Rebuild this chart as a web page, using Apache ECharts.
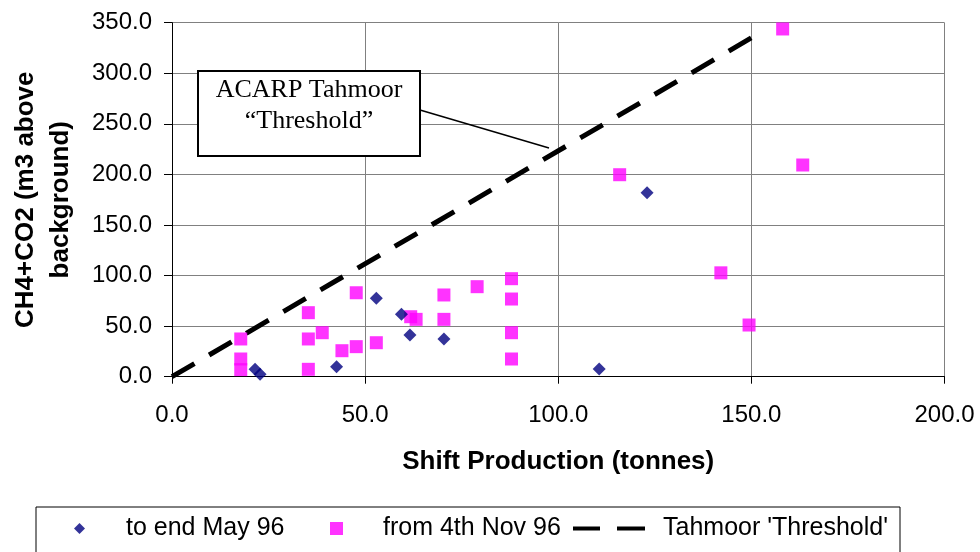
<!DOCTYPE html>
<html><head><meta charset="utf-8">
<script src="https://cdn.jsdelivr.net/npm/echarts@6/dist/echarts.min.js"></script>
<style>html,body{margin:0;padding:0;background:#fff}#c{width:980px;height:552px}</style>
</head><body><div id="c"></div>
<script>
// Series 1: to end May 96
const mayX = [21.5, 22.8, 42.6, 52.9, 59.4, 61.6, 70.4, 110.6, 123.0];
const mayY = [7.3, 2.4, 9.9, 77.5, 61.7, 41.2, 37.3, 7.6, 181.9];
// Series 2: from 4th Nov 96
const novX = [17.8, 17.8, 17.8, 35.3, 35.3, 35.3, 38.9, 44.0, 47.7, 47.7, 52.9, 61.8, 63.2, 70.4, 70.4, 79.0, 87.9, 87.9, 87.9, 87.9, 115.9, 142.1, 149.4, 158.1, 163.3];
const novY = [37.3, 17.5, 7.0, 63.3, 37.3, 7.3, 43.5, 25.7, 29.7, 83.0, 33.6, 59.3, 56.7, 80.8, 56.7, 89.0, 96.9, 76.8, 43.5, 17.5, 199.7, 102.7, 51.1, 343.8, 209.3];
// Series 3: Tahmoor 'Threshold'
const thX = [0, 150];
const thY = [0, 335];
const seriesNames = ["to end May 96", "from 4th Nov 96", "Tahmoor 'Threshold'"];
const xTitle = "Shift Production (tonnes)";
const yTitle = "CH4+CO2 (m3 above\nbackground)";
const annotationText = "ACARP Tahmoor\n\u201CThreshold\u201D";

const pairs = (xs, ys) => xs.map((x, i) => [x, ys[i]]);
const sans = '"Liberation Sans", Arial, sans-serif';
const chart = echarts.init(document.getElementById('c'));
const legendText = (pad) => ({ fontFamily: sans, fontSize: 25, color: '#000', padding: [0, 0, 0, pad] });
chart.setOption({
  animation: false,
  backgroundColor: '#fff',
  grid: { left: 170.5, right: 35.5, top: 22.7, bottom: 175.3, containLabel: false },
  xAxis: {
    type: 'value', min: 0, max: 200, interval: 50,
    name: xTitle, nameLocation: 'middle', nameGap: 72,
    nameTextStyle: { fontFamily: sans, fontSize: 26, fontWeight: 'bold', color: '#000' },
    axisLine: { onZero: false, lineStyle: { color: '#000', width: 1 } },
    axisTick: { show: true, length: 7, lineStyle: { color: '#000' } },
    axisLabel: { margin: 27, fontFamily: sans, fontSize: 24, color: '#000', formatter: v => v.toFixed(1) },
    splitLine: { show: true, lineStyle: { color: '#808080', width: 1 } }
  },
  yAxis: {
    type: 'value', min: 0, max: 350, interval: 50,
    name: yTitle, nameLocation: 'middle', nameGap: 94,
    nameTextStyle: { fontFamily: sans, fontSize: 26, fontWeight: 'bold', color: '#000', lineHeight: 35, align: 'center' },
    axisLine: { show: true, onZero: false, lineStyle: { color: '#000', width: 1 } },
    axisTick: { show: true, length: 8, lineStyle: { color: '#000' } },
    axisLabel: { margin: 20, fontFamily: sans, fontSize: 24, color: '#000', formatter: v => v.toFixed(1) },
    splitLine: { show: true, lineStyle: { color: '#808080', width: 1 } }
  },
  legend: [
    { top: 516, left: 74, padding: 0, itemWidth: 11, itemHeight: 11, selectedMode: false,
      data: [{ name: seriesNames[0], icon: 'diamond' }], textStyle: legendText(36) },
    { top: 516, left: 330, padding: 0, itemWidth: 13, itemHeight: 13, selectedMode: false,
      data: [{ name: seriesNames[1], icon: 'rect' }], textStyle: legendText(35) },
    { top: 516, left: 573, padding: 0, itemWidth: 72, itemHeight: 4, selectedMode: false,
      itemStyle: { color: '#000', borderWidth: 0 }, lineStyle: { width: 0 },
      data: [{ name: seriesNames[2], icon: 'path://M0,0H27V4H0Z M44,0H72V4H44Z' }], textStyle: legendText(13) }
  ],
  series: [
    { name: seriesNames[0], type: 'scatter', symbol: 'diamond', symbolSize: 13,
      itemStyle: { color: '#000080' }, data: pairs(mayX, mayY), z: 4 },
    { name: seriesNames[1], type: 'scatter', symbol: 'rect', symbolSize: 13,
      itemStyle: { color: '#FF00FF' }, data: pairs(novX, novY), z: 3 },
    { name: seriesNames[2], type: 'line', symbol: 'none', showSymbol: false,
      lineStyle: { color: '#000', width: 5, type: [26, 17], cap: 'butt' },
      itemStyle: { color: '#000' }, data: pairs(thX, thY), z: 2 }
  ],
  graphic: [
    { type: 'rect', z: 10, shape: { x: 198, y: 71, width: 222, height: 85 },
      style: { fill: '#fff', stroke: '#000', lineWidth: 2 } },
    { type: 'text', z: 11, style: { text: annotationText, x: 309, y: 106, align: 'center', verticalAlign: 'middle',
      fontFamily: '"Liberation Serif", "Times New Roman", serif', fontSize: 26, lineHeight: 31, fill: '#000' } },
    { type: 'line', z: 10, shape: { x1: 420, y1: 110, x2: 549, y2: 148 },
      style: { stroke: '#000', lineWidth: 1.5 } },
    { type: 'rect', z: 1, shape: { x: 36, y: 507, width: 864, height: 60 },
      style: { fill: 'none', stroke: '#000', lineWidth: 1 } }
  ]
});
</script></body></html>
